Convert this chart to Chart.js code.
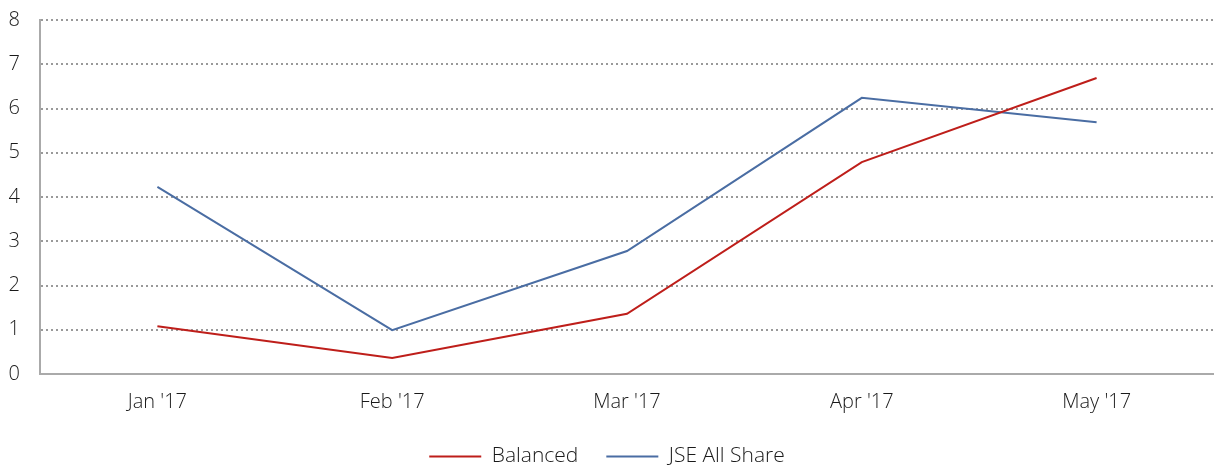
<!DOCTYPE html>
<html><head><meta charset="utf-8">
<script src="https://cdn.jsdelivr.net/npm/chart.js@4/dist/chart.umd.min.js"></script>
<style>html,body{margin:0;padding:0;background:#fff;overflow:hidden}#o{width:1214px;height:466px;overflow:hidden;position:relative}#w{position:absolute;left:0;top:-12px;width:1214px;height:489px}</style>
</head><body><div id="o"><div id="w"><canvas id="c"></canvas></div></div>
<script>
const categories = ["Jan '17", "Feb '17", "Mar '17", "Apr '17", "May '17"];
const balanced = [1.08, 0.36, 1.36, 4.79, 6.69];
const jseAllShare = [4.23, 0.99, 2.78, 6.24, 5.69];
const yTicks = [0, 1, 2, 3, 4, 5, 6, 7, 8];

Chart.defaults.font.family = "'Open Sans', Roboto, sans-serif";
Chart.defaults.font.size = 20;
Chart.defaults.font.weight = 300;
Chart.defaults.color = '#1a1a1a';

new Chart(document.getElementById('c'), {
  type: 'line',
  data: {
    labels: categories,
    datasets: [
      {label: 'Balanced', data: balanced, borderColor: '#BE1E1A', backgroundColor: '#BE1E1A', borderWidth: 2, pointRadius: 0, tension: 0},
      {label: 'JSE All Share', data: jseAllShare, borderColor: '#4A6DA3', backgroundColor: '#4A6DA3', borderWidth: 2, pointRadius: 0, tension: 0}
    ]
  },
  options: {
    responsive: true, maintainAspectRatio: false, animation: false,
    layout: {padding: {top: 0, right: 0, left: 0, bottom: 0}},
    plugins: {
      legend: {position: 'bottom', labels: {
        boxWidth: 52, boxHeight: 2, padding: 28, font: {size: 21}, color: '#1a1a1a',
        generateLabels: ch => ch.data.datasets.map((d, i) => ({
          text: d.label, fillStyle: d.borderColor, strokeStyle: d.borderColor,
          lineWidth: 0, hidden: false, datasetIndex: i, fontColor: '#1a1a1a'
        }))
      }},
      tooltip: {enabled: false}
    },
    scales: {
      x: {
        offset: true,
        afterFit: s => { s.height -= 12; },
        grid: {display: false, drawTicks: false},
        border: {display: true, color: '#AAAAAA', width: 2},
        ticks: {padding: 16, font: {size: 20}}
      },
      y: {
        min: 0, max: 8,
        afterFit: s => { s.width = 40; },
        afterBuildTicks: s => { s.ticks = yTicks.map(v => ({value: v})); },
        grid: {color: '#999999', lineWidth: 2, drawTicks: false},
        border: {display: true, color: '#AAAAAA', width: 2, dash: [2, 3]},
        ticks: {padding: 20, font: {size: 20}}
      }
    }
  }
});
</script></body></html>
